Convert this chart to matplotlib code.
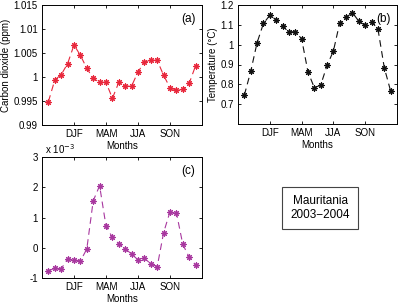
import matplotlib
matplotlib.use('Agg')
import matplotlib.pyplot as plt
from matplotlib.ticker import FuncFormatter

plt.rcParams['font.family'] = ['Liberation Sans', 'DejaVu Sans']
plt.rcParams['font.size'] = 7

# monthly values, 2003-2004
months = list(range(1, 25))
season_pos = [5, 10, 15, 20]
season_lab = ['DJF', 'MAM', 'JJA', 'SON']

co2 = [0.99486, 0.99938, 1.00049, 1.00278, 1.00667, 1.00451, 1.00181, 0.99972,
       0.99889, 0.99889, 0.99556, 0.99889, 0.99806, 0.99813, 1.00104, 1.00312,
       1.00347, 1.00347, 1.00035, 0.99778, 0.99722, 0.99743, 0.99868, 1.00236]

temp = [0.746, 0.865, 1.010, 1.107, 1.148, 1.126, 1.092, 1.065,
        1.065, 1.030, 0.863, 0.783, 0.796, 0.895, 0.968, 1.111,
        1.138, 1.161, 1.118, 1.097, 1.114, 1.080, 0.884, 0.766]

# panel (c), in units of 1e-3
dust = [-0.77, -0.67, -0.70, -0.36, -0.40, -0.44, -0.04, 1.55,
        2.05, 0.72, 0.34, 0.135, -0.03, -0.21, -0.40, -0.35,
        -0.53, -0.63, 0.50, 1.19, 1.16, 0.11, -0.31, -0.57]

W, H = 399, 305
fig = plt.figure(figsize=(W / 100, H / 100), dpi=100)


def box(l, t, r, b):
    return [l / W, 1 - b / H, (r - l) / W, (b - t) / H]


fmt = FuncFormatter(lambda v, p: '%g' % round(v, 4))


def panel(rect, y, color, ylim, yticks, ylabel, tag):
    ax = fig.add_axes(rect)
    ax.plot(months, y, color=color, linestyle=(0, (6, 4)), linewidth=0.8,
            marker=(8, 2, 0), markersize=4.5, markeredgewidth=0.8)
    ax.set_xlim(0, 25)
    ax.set_ylim(*ylim)
    ax.set_xticks(season_pos)
    ax.set_xticklabels(season_lab)
    ax.set_yticks(yticks)
    ax.yaxis.set_major_formatter(fmt)
    ax.tick_params(direction='in', length=2.5, width=0.6, top=True, right=True, pad=3)
    for s in ax.spines.values():
        s.set_linewidth(0.7)
    ax.set_xlabel('Months', labelpad=1.5)
    if ylabel:
        ax.set_ylabel(ylabel, labelpad=1.5)
    ax.text(0.96, 0.93, tag, transform=ax.transAxes, ha='right', va='top', fontsize=8.5)
    return ax


panel(box(42, 5, 202, 125), co2, '#e8283c', (0.99, 1.015),
      [0.99, 0.995, 1.0, 1.005, 1.01, 1.015], 'Carbon dioxide (ppm)', '(a)')
panel(box(238, 5, 397, 124), temp, '#111111', (0.6, 1.2),
      [0.7, 0.8, 0.9, 1.0, 1.1, 1.2], 'Temperature (°C)', '(b)')
axc = panel(box(42, 157, 202, 278), dust, '#a8389f', (-1, 3),
            [-1, 0, 1, 2, 3], None, '(c)')
axc.text(0.02, 1.01, r'x 10$^{-3}$', transform=axc.transAxes, ha='left', va='bottom',
         fontsize=7)

fig.text(320 / W, 1 - 208 / H, 'Mauritania\n2003\u22122004', ha='center', va='center',
         fontsize=8.5, linespacing=1.15,
         bbox=dict(boxstyle='square,pad=0.7', facecolor='white', edgecolor='#444444',
                   linewidth=0.8))

fig.savefig('out.png', dpi=100)
